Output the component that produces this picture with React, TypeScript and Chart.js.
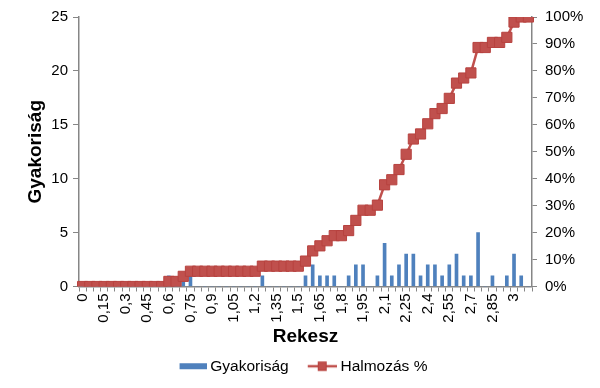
import React, { useEffect, useRef } from "react";
import { Chart, registerables } from "chart.js";

Chart.register(...registerables);

const categories = [
  "0", "0,05", "0,1", "0,15", "0,2", "0,25", "0,3", "0,35", "0,4", "0,45",
  "0,5", "0,55", "0,6", "0,65", "0,7", "0,75", "0,8", "0,85", "0,9", "0,95",
  "1", "1,05", "1,1", "1,15", "1,2", "1,25", "1,3", "1,35", "1,4", "1,45",
  "1,5", "1,55", "1,6", "1,65", "1,7", "1,75", "1,8", "1,85", "1,9", "1,95",
  "2", "2,05", "2,1", "2,15", "2,2", "2,25", "2,3", "2,35", "2,4", "2,45",
  "2,5", "2,55", "2,6", "2,65", "2,7", "2,75", "2,8", "2,85", "2,9", "2,95",
  "3", "3,05", "3,1",
];

const frequency = [
  0, 0, 0, 0, 0, 0, 0, 0, 0, 0,
  0, 0, 1, 0, 1, 1, 0, 0, 0, 0,
  0, 0, 0, 0, 0, 1, 0, 0, 0, 0,
  0, 1, 2, 1, 1, 1, 0, 1, 2, 2,
  0, 1, 4, 1, 2, 3, 3, 1, 2, 2,
  1, 2, 3, 1, 1, 5, 0, 1, 0, 1,
  3, 1, 0,
];

const cumulativePercent = [
  0, 0, 0, 0, 0, 0, 0, 0, 0, 0,
  0, 0, 1.89, 1.89, 3.77, 5.66, 5.66, 5.66, 5.66, 5.66,
  5.66, 5.66, 5.66, 5.66, 5.66, 7.55, 7.55, 7.55, 7.55, 7.55,
  7.55, 9.43, 13.21, 15.09, 16.98, 18.87, 18.87, 20.75, 24.53, 28.3,
  28.3, 30.19, 37.74, 39.62, 43.4, 49.06, 54.72, 56.6, 60.38, 64.15,
  66.04, 69.81, 75.47, 77.36, 79.25, 88.68, 88.68, 90.57, 90.57, 92.45,
  98.11, 100, 100,
];

const leftTicks = { min: 0, max: 25, step: 5 };
const rightTicks = { min: 0, max: 100, step: 10 };

const seriesNames = ["Gyakoriság", "Halmozás %"];
const xTitle = "Rekesz";
const yTitle = "Gyakoriság";

const BLUE = "#4F81BD";
const RED = "#C0504D";
const RED_EDGE = "#B7423F";
const AXIS = "#868686";
const FONT = "'Liberation Sans', Arial, sans-serif";

const BOX_W = 34;

function makeBarIcon(): HTMLCanvasElement {
  const c = document.createElement("canvas");
  c.width = BOX_W + 8;
  c.height = 12;
  const ctx = c.getContext("2d")!;
  ctx.fillStyle = BLUE;
  ctx.fillRect(c.width - 27, 3, 27, 6);
  return c;
}

function makeLineIcon(): HTMLCanvasElement {
  const c = document.createElement("canvas");
  c.width = BOX_W + 8;
  c.height = 12;
  const ctx = c.getContext("2d")!;
  const x0 = c.width - 29;
  ctx.strokeStyle = RED;
  ctx.lineWidth = 2.5;
  ctx.beginPath();
  ctx.moveTo(x0, 6);
  ctx.lineTo(c.width, 6);
  ctx.stroke();
  ctx.fillStyle = RED;
  ctx.strokeStyle = RED_EDGE;
  ctx.lineWidth = 1;
  ctx.fillRect(x0 + 10, 1.5, 9, 9);
  ctx.strokeRect(x0 + 10.5, 2, 8, 8);
  return c;
}

export default function App() {
  const ref = useRef<HTMLCanvasElement | null>(null);

  useEffect(() => {
    if (!ref.current) return;
    const barIcon = makeBarIcon();
    const lineIcon = makeLineIcon();

    const chart = new Chart(ref.current, {
      type: "bar",
      data: {
        labels: categories,
        datasets: [
          {
            type: "bar",
            label: seriesNames[0],
            data: frequency,
            backgroundColor: BLUE,
            borderWidth: 0,
            barThickness: 3,
            yAxisID: "y",
            order: 2,
          },
          {
            type: "line",
            label: seriesNames[1],
            data: cumulativePercent,
            borderColor: RED,
            backgroundColor: RED,
            borderWidth: 2.5,
            pointStyle: "rect",
            pointRadius: 7.2,
            pointBackgroundColor: RED,
            pointBorderColor: RED_EDGE,
            pointBorderWidth: 1,
            yAxisID: "y1",
            order: 1,
            tension: 0,
          } as any,
        ],
      },
      options: {
        responsive: false,
        animation: false,
        layout: { padding: { top: 14, left: 0, right: 4, bottom: 4 } },
        plugins: {
          tooltip: { enabled: false },
          legend: {
            display: true,
            position: "bottom",
            labels: {
              usePointStyle: true,
              pointStyleWidth: BOX_W,
              padding: 10,
              color: "#000",
              font: { family: FONT, size: 15.5 },
              generateLabels: () => [
                {
                  text: seriesNames[0],
                  pointStyle: barIcon as any,
                  fillStyle: BLUE,
                  strokeStyle: BLUE,
                  lineWidth: 0,
                  hidden: false,
                  datasetIndex: 0,
                  fontColor: "#000",
                },
                {
                  text: seriesNames[1],
                  pointStyle: lineIcon as any,
                  fillStyle: RED,
                  strokeStyle: RED,
                  lineWidth: 0,
                  hidden: false,
                  datasetIndex: 1,
                  fontColor: "#000",
                },
              ],
            },
          },
        },
        scales: {
          x: {
            type: "category",
            offset: true,
            border: { color: AXIS, width: 1.5 },
            grid: {
              display: true,
              drawOnChartArea: false,
              drawTicks: true,
              tickLength: 5,
              offset: true,
              color: AXIS,
            },
            ticks: {
              autoSkip: false,
              maxRotation: 90,
              minRotation: 90,
              padding: 2,
              color: "#000",
              font: { family: FONT, size: 15 },
              callback: (_v: any, i: number) => (i % 3 === 0 ? categories[i] : ""),
            },
            title: {
              display: true,
              text: xTitle,
              color: "#000",
              font: { family: FONT, size: 19, weight: "bold" },
              padding: { top: 2, bottom: 0 },
            },
            afterFit: (s: any) => {
              s.height = 62;
            },
          },
          y: {
            type: "linear",
            position: "left",
            min: leftTicks.min,
            max: leftTicks.max,
            border: { color: AXIS, width: 1.5 },
            grid: {
              drawOnChartArea: false,
              drawTicks: true,
              tickLength: 6,
              color: AXIS,
            },
            ticks: {
              stepSize: leftTicks.step,
              padding: 5,
              color: "#000",
              font: { family: FONT, size: 15 },
            },
            title: {
              display: true,
              text: yTitle,
              color: "#000",
              font: { family: FONT, size: 19, weight: "bold" },
              padding: { top: 24, bottom: 4 },
            },
            afterFit: (s: any) => {
              s.width = 79;
            },
          },
          y1: {
            type: "linear",
            position: "right",
            min: rightTicks.min,
            max: rightTicks.max,
            border: { color: AXIS, width: 1.5 },
            grid: {
              drawOnChartArea: false,
              drawTicks: true,
              tickLength: 5,
              color: AXIS,
            },
            ticks: {
              stepSize: rightTicks.step,
              padding: 8,
              color: "#000",
              font: { family: FONT, size: 15 },
              callback: (v: any) => `${v}%`,
            },
            afterFit: (s: any) => {
              s.width = 64;
            },
          },
        },
      },
    });
    return () => chart.destroy();
  }, []);

  return (
    <div style={{ position: "absolute", left: 0, top: 0, width: 600, height: 388, background: "#fff" }}>
      <canvas ref={ref} width={600} height={388} style={{ display: "block", width: 600, height: 388 }} />
    </div>
  );
}
